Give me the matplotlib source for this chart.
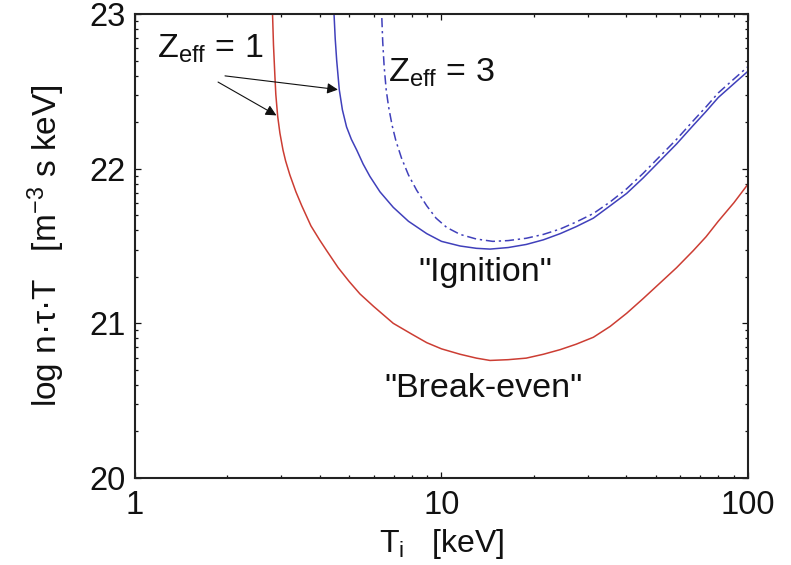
import numpy as np
import matplotlib
matplotlib.use("Agg")
import matplotlib.pyplot as plt
from matplotlib.ticker import LogLocator, FuncFormatter, NullFormatter

plt.rcParams['font.family'] = ['Liberation Sans', 'DejaVu Sans']
plt.rcParams['mathtext.fontset'] = 'custom'
plt.rcParams['mathtext.rm'] = 'Liberation Sans'
plt.rcParams['mathtext.it'] = 'Liberation Sans:italic'
plt.rcParams['mathtext.bf'] = 'Liberation Sans:bold'

# Break-even curve (Zeff = 1): T_i [keV], log10(n tau T)
breakeven_T = [2.78, 2.81, 2.83, 2.86, 2.88, 2.92, 2.97, 3.04, 3.10, 3.20, 3.35, 3.50,
               3.75, 4.00, 4.22, 4.60, 5.00, 5.42, 6.00, 6.96, 8.00, 8.95, 10.0, 11.5,
               13.0, 14.4, 16.5, 18.9, 21.5, 24.4, 27.5, 31.3, 35.5, 40.2, 45.5, 51.6,
               58.5, 66.3, 73.0, 80.0, 90.0, 100.0]
breakeven_log = [23.10, 23.00, 22.80, 22.60, 22.48, 22.34, 22.23, 22.12, 22.05, 21.96, 21.85, 21.76,
                 21.63, 21.54, 21.47, 21.36, 21.27, 21.19, 21.11, 21.00, 20.93, 20.875, 20.835, 20.80,
                 20.775, 20.76, 20.765, 20.775, 20.80, 20.83, 20.865, 20.91, 20.98, 21.065, 21.16, 21.26,
                 21.36, 21.47, 21.56, 21.66, 21.78, 21.90]

# Ignition curve, Zeff = 1
ignition1_T = [4.43, 4.46, 4.50, 4.55, 4.64, 4.75, 4.90, 5.08, 5.29, 5.55, 5.84, 6.30,
               6.96, 7.80, 8.95, 10.0, 11.5, 13.0, 14.4, 16.5, 18.9, 21.5, 24.4, 27.5,
               31.3, 35.5, 40.2, 45.5, 51.6, 58.5, 66.3, 73.0, 80.0, 90.0, 100.0]
ignition1_log = [23.10, 23.00, 22.84, 22.70, 22.51, 22.38, 22.27, 22.19, 22.12, 22.03, 21.95, 21.85,
                 21.75, 21.66, 21.58, 21.53, 21.50, 21.485, 21.48, 21.49, 21.51, 21.54, 21.58, 21.625,
                 21.68, 21.76, 21.84, 21.94, 22.05, 22.16, 22.28, 22.37, 22.46, 22.55, 22.63]

# Ignition curve, Zeff = 3
ignition3_T = [6.33, 6.38, 6.43, 6.50, 6.60, 6.72, 6.90, 7.10, 7.40, 7.80, 8.30, 8.95,
               9.60, 10.4, 11.5, 13.0, 14.7, 16.5, 18.9, 21.5, 24.4, 27.5, 31.3, 35.5,
               40.2, 45.5, 51.6, 58.5, 66.3, 73.0, 80.0, 90.0, 100.0]
ignition3_log = [23.10, 23.00, 22.82, 22.66, 22.51, 22.40, 22.28, 22.18, 22.07, 21.96, 21.86, 21.76,
                 21.68, 21.62, 21.575, 21.545, 21.53, 21.535, 21.55, 21.575, 21.61, 21.655, 21.71, 21.785,
                 21.87, 21.97, 22.08, 22.19, 22.31, 22.40, 22.49, 22.58, 22.66]

red = '#cc3d33'
blue = '#4040bb'
ink = '#111111'

fig = plt.figure(figsize=(7.91, 5.65), dpi=100)
ax = fig.add_axes([0.1707, 0.154, 0.7749, 0.8212])

ax.plot(breakeven_T, 10.0 ** np.array(breakeven_log), color=red, lw=1.1)
ax.plot(ignition1_T, 10.0 ** np.array(ignition1_log), color=blue, lw=1.1)
ax.plot(ignition3_T, 10.0 ** np.array(ignition3_log), color=blue, lw=1.1,
        linestyle=(0, (6, 2.5, 1.5, 2.5)))

ax.set_xscale('log')
ax.set_yscale('log')
ax.set_xlim(1, 100)
ax.set_ylim(1e20, 1e23)

ax.xaxis.set_major_locator(LogLocator(base=10))
ax.xaxis.set_minor_locator(LogLocator(base=10, subs=np.arange(2, 10)))
ax.xaxis.set_major_formatter(FuncFormatter(lambda v, _: f"{v:g}"))
ax.xaxis.set_minor_formatter(NullFormatter())
ax.yaxis.set_major_locator(LogLocator(base=10))
ax.yaxis.set_minor_locator(LogLocator(base=10, subs=np.arange(2, 10)))
ax.yaxis.set_major_formatter(FuncFormatter(lambda v, _: f"{np.log10(v):.0f}"))
ax.yaxis.set_minor_formatter(NullFormatter())

ax.tick_params(which='both', direction='in', top=True, right=True, colors=ink,
               labelsize=23.5, width=0.9)
ax.tick_params(which='major', length=4)
ax.tick_params(which='minor', length=2.2)
ax.tick_params(axis='x', which='major', pad=9)
ax.tick_params(axis='y', which='major', pad=7)
for s in ax.spines.values():
    s.set_linewidth(1.5)
    s.set_color('#222222')

ax.set_xlabel("T$_\\mathrm{i}$   [keV]", fontsize=23, color=ink, labelpad=4)
ax.set_ylabel("log n·τ·T   [m$^{-3}$ s keV]", fontsize=24, color=ink, labelpad=16)

# labels
ax.text(1.18, 10 ** 22.716, "Z$_\\mathrm{eff}$ = 1", fontsize=24.5, color=ink, va='baseline')
ax.text(6.69, 10 ** 22.56, "Z$_\\mathrm{eff}$ = 3", fontsize=24.5, color=ink, va='baseline')
ax.text(13.9, 10 ** 21.33, "\"Ignition\"", fontsize=24.5, color=ink, ha='center', va='center')
ax.text(13.66, 10 ** 20.58, "\"Break-even\"", fontsize=24.5, color=ink, ha='center', va='center')

arrow = dict(arrowstyle='-|>', color=ink, lw=0.8, mutation_scale=16, shrinkA=0, shrinkB=1)
ax.annotate("", xy=(breakeven_T[5], 10 ** breakeven_log[5]), xytext=(1.866, 10 ** 22.56),
            arrowprops=arrow)
ax.annotate("", xy=(ignition1_T[4], 10 ** ignition1_log[4]), xytext=(1.966, 10 ** 22.60),
            arrowprops=arrow)

fig.savefig('out.png', dpi=100, facecolor='white')
